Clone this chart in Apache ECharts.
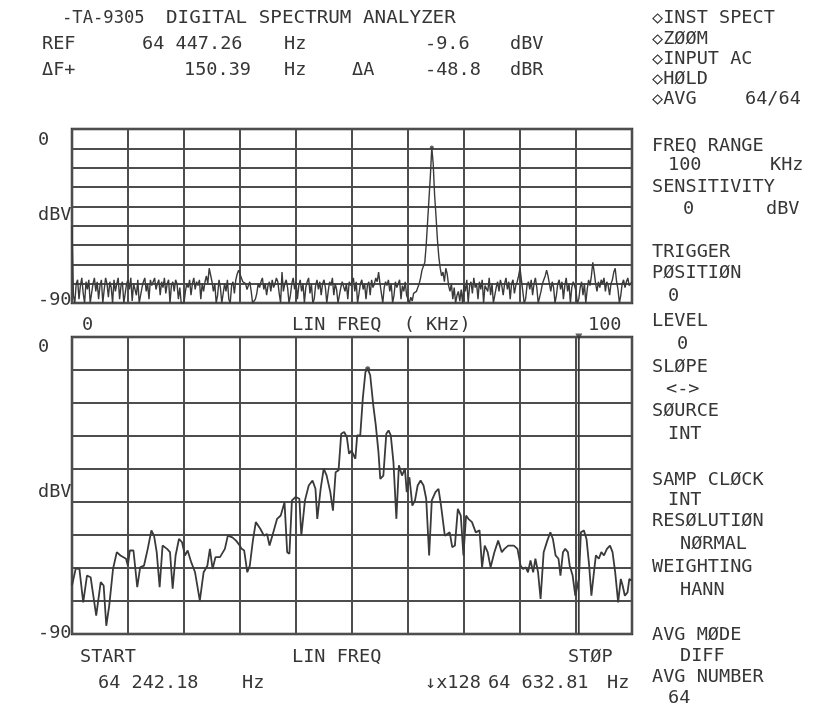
<!DOCTYPE html>
<html><head><meta charset="utf-8">
<script src="https://cdn.jsdelivr.net/npm/echarts@6/dist/echarts.min.js"></script>
<style>html,body{margin:0;padding:0;background:#fff}#c{width:818px;height:707px}</style>
</head><body><div id="c"></div>
<script>
// ---------- DATA ----------
// Upper trace: full span 0..100 kHz, one reading every 0.25 kHz (dBV)
const TOP_STEP_KHZ = 0.25;
const TOP_DB = [
  -50,-86,-90,-80,-78,-88,-81,-77,-85,-90,-79,-83,-78,-90,-90,-80,-77,-84,-79,-88,
  -81,-78,-90,-83,-77,-80,-87,-79,-82,-90,-78,-84,-80,-77,-88,-81,-79,-90,-85,-80,
  -78,-83,-77,-89,-80,-79,-86,-78,-90,-90,-82,-79,-77,-84,-80,-88,-78,-81,-79,-77,
  -83,-80,-78,-86,-79,-82,-77,-85,-80,-78,-90,-81,-79,-84,-78,-80,-88,-82,-90,-90,
  -90,-84,-80,-82,-78,-86,-80,-77,-83,-79,-81,-78,-88,-80,-84,-79,-76,-80,-72,-71,
  -79,-84,-80,-90,-86,-78,-82,-90,-89,-80,-84,-78,-88,-90,-81,-79,-85,-78,-75,-73,
  -74,-77,-79,-78,-80,-83,-81,-79,-84,-90,-90,-88,-85,-80,-82,-79,-77,-83,-80,-86,
  -81,-79,-84,-78,-82,-80,-77,-79,-85,-90,-74,-84,-80,-78,-82,-90,-86,-80,-77,-83,
  -79,-88,-81,-78,-84,-80,-90,-82,-79,-77,-85,-80,-90,-88,-81,-78,-83,-79,-86,-80,
  -78,-82,-90,-84,-79,-81,-77,-86,-80,-83,-90,-90,-82,-79,-78,-84,-80,-88,-79,-81,
  -80,-77,-84,-79,-90,-85,-80,-78,-83,-80,-88,-81,-79,-86,-78,-82,-80,-77,-79,-74,
  -80,-85,-90,-82,-79,-81,-78,-84,-80,-90,-86,-79,-82,-80,-78,-88,-81,-84,-79,-86,
  -88,-90,-87,-89,-85,-86,-84,-82,-80,-77,-73,-71,-69,-60,-48,-36,-24,-9.6,-18,-34,
  -45,-57,-66,-72,-76,-74,-79,-72,-75,-81,-84,-80,-88,-82,-90,-86,-84,-89,-83,-90,
  -80,-84,-78,-90,-81,-79,-85,-77,-82,-80,-88,-79,-83,-78,-90,-81,-80,-84,-77,-86,
  -80,-90,-90,-82,-79,-84,-78,-81,-86,-80,-77,-83,-79,-88,-80,-78,-85,-81,-79,-76,
  -72,-78,-84,-90,-88,-81,-79,-83,-78,-86,-80,-77,-82,-90,-90,-84,-80,-78,-76,-73,
  -76,-80,-84,-79,-82,-90,-86,-80,-78,-83,-79,-88,-81,-77,-84,-80,-90,-82,-79,-81,
  -84,-90,-88,-82,-79,-86,-80,-90,-83,-78,-81,-76,-69,-74,-80,-84,-79,-82,-78,-80,
  -77,-84,-79,-81,-86,-80,-78,-74,-72,-79,-83,-90,-86,-80,-78,-82,-79,-77,-81,-80,-79
];
// Lower (zoom x128) trace: analyzer line number (0..400) and level (dBV)
const ZOOM_LINES = [0,2.7,5.3,8,10.7,13.3,17.3,20.5,22.6,24.5,26.6,29.3,32,34.6,38.6,39.9,41.3,43.9,46.6,48.7,
  51.4,54.1,56.7,58.6,60.5,62.6,64.7,67.9,70,71.9,74,76.4,78.6,80.7,82.6,85.2,87.9,91.3,94,96.7,
  98.5,100.4,102.5,105.7,109.2,111.3,114.5,117.2,119.8,121.2,123,125.2,127,129.2,131.3,134.5,137.1,139.3,141.1,143.8,
  146.5,149.1,151.8,153.7,155.3,157.1,159.8,162.4,163.8,166.4,169.1,171.8,173.9,175.2,177.6,179.8,181.9,184.5,186.4,188.3,
  190.4,192.3,194.4,196.3,197.9,199.7,201.1,202.4,203.7,205.9,207.7,209.6,211.2,213,215.2,217,218.9,220.2,222.4,224.5,
  226.1,227.7,229.6,231.7,233.5,235.7,237.8,239.1,241,243.1,245,246.9,249,251.1,253,255.1,257,259.6,261.8,263.6,
  266.3,267.6,269.8,271.6,273.5,275.6,277.7,279.6,281.5,283.1,285.7,288.4,291.1,292.9,294.8,296.9,299,301.7,304.4,307,
  308.9,311.6,315.6,318.2,320.4,322.2,324.1,325.7,327.5,329.4,331,332.9,334.7,336.9,339.5,341.7,343.5,345.4,347.5,348.9,
  350.7,352.3,354.2,355.5,357.6,359.5,362.1,363.5,365.6,367.5,369.4,371,372.8,374.2,376.3,378.1,380,382.1,384.3,386.1,
  388,390.1,392,393.3,394.9,396.8,398.1,400];
const ZOOM_DB = [-75.3,-70.1,-70.3,-80.4,-72.3,-72.8,-84.4,-74.3,-75.3,-87.5,-81.4,-70.3,-65.2,-66.2,-67.2,-69.3,-64.7,-64.7,-75.8,-69.8,
  -69.3,-64.2,-58.6,-60.2,-65.2,-75.8,-63.2,-64.2,-65.2,-76.3,-66.2,-61.2,-62.2,-66.2,-64.7,-68.3,-71.3,-79.9,-71.3,-69.3,
  -64.2,-70.3,-66.7,-66.7,-64.2,-60.2,-60.7,-61.7,-63.2,-64.2,-64.7,-71.3,-69.3,-61.7,-56.1,-58.1,-60.2,-59.7,-63.2,-59.2,
  -55.1,-54.1,-50.1,-65.2,-65.7,-49.5,-48.5,-49,-60.2,-49.5,-45,-43.5,-46,-55.1,-46,-39.9,-42,-47,-52.6,-41,
  -40.4,-29.3,-28.8,-30.3,-35.4,-34.4,-34.9,-36.9,-29.8,-29.8,-18.7,-10.6,-9.6,-11.6,-20.7,-26.8,-34.9,-43,-42,-29.3,
  -28.3,-29.8,-37.9,-55.1,-38.9,-42,-39.9,-47,-42.5,-51.1,-49.5,-45,-43.5,-45,-49,-66.2,-49.5,-47,-46,-51.1,
  -60.2,-60.7,-59.2,-63.7,-63.2,-52.1,-54.1,-66.2,-54.1,-55.1,-56.1,-59.2,-58.6,-69.8,-63.2,-65.2,-69.8,-65.2,-61.7,-65.2,
  -64.2,-63.2,-63.2,-64.2,-69.3,-70.3,-69.8,-71.3,-67.7,-71.3,-67.2,-71.3,-79.4,-65.2,-61.7,-59.2,-61.2,-66.2,-67.2,-72.3,
  -65.2,-64.2,-65.2,-69.3,-72.3,-78.4,-73.3,-59.2,-58.6,-61.2,-69.3,-78.4,-71.3,-66.2,-67.2,-65.2,-66.2,-64.2,-63.2,-65.2,
  -71.3,-80.4,-73.3,-75.3,-78.4,-77.4,-73.3,-73.8];
const REF_PEAK_KHZ = 64.25, REF_PEAK_DB = -9.6, REF_PEAK_LINE = 211.2;
const CURSOR_LINE = 362;
const DB_MIN = -90, DB_MAX = 0;

// ---------- TEXT ----------
const F = '17.5px "DejaVu Sans Mono", "Liberation Mono", monospace';
const WIDEN = 1.06;
const INK = '#363636';
const TEXTS = [
  ['-TA-9305', 62, 18, 0.98], ['DIGITAL SPECTRUM ANALYZER', 166, 18, 1.1],
  ['REF', 42, 44], ['64 447.26', 142, 44], ['Hz', 284, 44], ['-9.6', 425, 44], ['dBV', 510, 44],
  ['ΔF+', 42, 70], ['150.39', 184, 70], ['Hz', 284, 70], ['ΔA', 352, 70], ['-48.8', 425, 70], ['dBR', 510, 70],
  ['◇INST SPECT', 652, 18], ['◇ZØØM', 652, 39], ['◇INPUT AC', 652, 59], ['◇HØLD', 652, 79], ['◇AVG', 652, 99], ['64/64', 745, 99],
  ['FREQ RANGE', 652, 146], ['100', 668, 165], ['KHz', 770, 165],
  ['SENSITIVITY', 652, 187], ['0', 683, 209], ['dBV', 766, 209],
  ['TRIGGER', 652, 252], ['PØSITIØN', 652, 273], ['0', 668, 296],
  ['LEVEL', 652, 321], ['0', 677, 344], ['SLØPE', 652, 367], ['<->', 666, 389],
  ['SØURCE', 652, 411], ['INT', 668, 434],
  ['SAMP CLØCK', 652, 480], ['INT', 668, 500], ['RESØLUTIØN', 652, 521], ['NØRMAL', 680, 544],
  ['WEIGHTING', 652, 567], ['HANN', 680, 590],
  ['AVG MØDE', 652, 635], ['DIFF', 680, 656], ['AVG NUMBER', 652, 677], ['64', 668, 698],
  ['0', 38, 140], ['dBV', 38, 215], ['-90', 38, 300],
  ['0', 82, 325], ['LIN FREQ  ( KHz)', 292, 325], ['100', 588, 325],
  ['0', 38, 347], ['dBV', 38, 492], ['-90', 38, 633],
  ['START', 80, 657], ['LIN FREQ', 292, 657], ['STØP', 568, 657],
  ['64 242.18', 98, 683], ['Hz', 242, 683], ['↓x128', 425, 683], ['64 632.81', 488, 683], ['Hz', 607, 683]
];

// ---------- CHART ----------
const topData = TOP_DB.map((v, i) => [i * TOP_STEP_KHZ, v]);
const zoomData = ZOOM_LINES.map((b, i) => [b, ZOOM_DB[i]]);
const gridLine = { show: true, lineStyle: { color: '#4d4d4d', width: 2 } };
const hideAx = { axisLabel: { show: false }, axisTick: { show: false }, axisLine: { show: false } };

const chart = echarts.init(document.getElementById('c'), null, { renderer: 'canvas' });
chart.setOption({
  backgroundColor: '#ffffff',
  animation: false,
  grid: [
    { left: 72, top: 129, width: 560, height: 174, show: true, borderColor: '#333', borderWidth: 2.5 },
    { left: 72, top: 337, width: 560, height: 297, show: true, borderColor: '#333', borderWidth: 2.5 }
  ],
  xAxis: [
    Object.assign({ gridIndex: 0, type: 'value', min: 0, max: 100, interval: 10, splitLine: gridLine }, hideAx),
    Object.assign({ gridIndex: 1, type: 'value', min: 0, max: 400, interval: 40, splitLine: gridLine }, hideAx)
  ],
  yAxis: [
    Object.assign({ gridIndex: 0, type: 'value', min: DB_MIN, max: DB_MAX, interval: 10, splitLine: gridLine }, hideAx),
    Object.assign({ gridIndex: 1, type: 'value', min: DB_MIN, max: DB_MAX, interval: 10, splitLine: gridLine }, hideAx)
  ],
  series: [
    { type: 'line', xAxisIndex: 0, yAxisIndex: 0, data: topData, showSymbol: false, clip: true,
      lineStyle: { color: '#3a3a3a', width: 1.4 } },
    { type: 'line', xAxisIndex: 1, yAxisIndex: 1, data: zoomData, showSymbol: false, clip: true,
      lineStyle: { color: '#3a3a3a', width: 1.8 } },
    { type: 'line', xAxisIndex: 1, yAxisIndex: 1, data: [[CURSOR_LINE, DB_MIN], [CURSOR_LINE, DB_MAX]],
      showSymbol: false, lineStyle: { color: '#3a3a3a', width: 1.8 } },
    { type: 'scatter', xAxisIndex: 1, yAxisIndex: 1, data: [[CURSOR_LINE, DB_MAX]], symbol: 'triangle',
      symbolRotate: 180, symbolSize: [7, 7], itemStyle: { color: '#3a3a3a' } },
    { type: 'scatter', xAxisIndex: 0, yAxisIndex: 0, data: [[REF_PEAK_KHZ, REF_PEAK_DB]], symbol: 'circle',
      symbolSize: 4, itemStyle: { color: '#3a3a3a' } },
    { type: 'scatter', xAxisIndex: 1, yAxisIndex: 1, data: [[REF_PEAK_LINE, REF_PEAK_DB]], symbol: 'circle',
      symbolSize: 5, itemStyle: { color: '#3a3a3a' } }
  ],
  graphic: TEXTS.map(t => ({
    type: 'text', x: t[1], y: t[2], scaleX: t[3] || WIDEN, silent: true,
    style: { text: t[0], font: F, fill: INK, verticalAlign: 'middle', textVerticalAlign: 'middle' }
  }))
});
</script></body></html>
